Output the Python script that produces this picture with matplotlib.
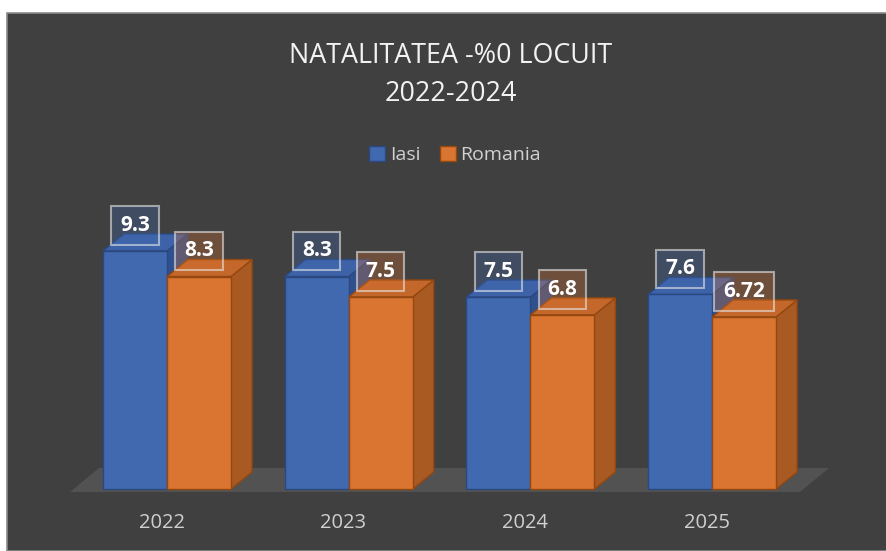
import matplotlib
matplotlib.use('Agg')
import matplotlib.pyplot as plt
from matplotlib.patches import Polygon, Rectangle, Patch
from matplotlib.colors import to_rgb

plt.rcParams['font.family'] = ['Open Sans', 'DejaVu Sans']

# data
years = ['2022', '2023', '2024', '2025']
iasi = [9.3, 8.3, 7.5, 7.6]
romania = [8.3, 7.5, 6.8, 6.72]
series_names = ['Iasi', 'Romania']
title = 'NATALITATEA -%0 LOCUIT\n2022-2024'

# colours: front, top, side, edge
blue = ('#4169b0', '#3d62a8', '#2f4f8d', '#2b4880')
orange = ('#d97431', '#c4672a', '#a85a22', '#94470f')

W, H = 887, 551
fig = plt.figure(figsize=(W / 100, H / 100), dpi=100)

# chart area with grey border
fig.patches.append(Rectangle((7, 0), W - 7, H - 13, transform=None,
                             facecolor='#404040', edgecolor='#8a8a8a',
                             linewidth=1.2, zorder=-5))

ax = fig.add_axes([0, 0, 1, 1])
ax.set_facecolor('none')
ax.set_axis_off()
ax.set_zorder(2)

# pixel mapping: group i centred at 167 + 181.7*i, value 0 at 489 px from top
px_x = 181.7
px_y = 25.6
ax.set_xlim(-167 / px_x, (W - 167) / px_x)
ax.set_ylim((489 - H) / px_y, 489 / px_y)

bw = 64 / px_x          # bar width
dx, dy = 21 / px_x, 17 / px_y   # bar depth
fdx, fdy = 29 / px_x, 24 / px_y  # floor depth

# floor
f0, f1, fy = -97 / px_x, 633 / px_x, -3 / px_y
ax.add_patch(Polygon([(f0, fy), (f1, fy), (f1 + fdx, fy + fdy), (f0 + fdx, fy + fdy)],
                     closed=True, facecolor='#525252', edgecolor='none', zorder=1))


def bar3d(x, v, col, z):
    x0, x1 = x - bw / 2, x + bw / 2
    ax.add_patch(Polygon([(x1, 0), (x1 + dx, dy), (x1 + dx, v + dy), (x1, v)],
                         closed=True, facecolor=col[2], edgecolor=col[3], lw=1, zorder=z))
    ax.add_patch(Polygon([(x0, v), (x1, v), (x1 + dx, v + dy), (x0 + dx, v + dy)],
                         closed=True, facecolor=col[1], edgecolor=col[3], lw=1, zorder=z))
    ax.bar(x, v, width=bw, color=col[0], edgecolor=col[3], lw=1, zorder=z + 0.5)


for i in range(len(years)):
    for j, (vals, col) in enumerate([(iasi, blue), (romania, orange)]):
        x = i + (j - 0.5) * bw
        bar3d(x, vals[i], col, 2 + i * 2 + j)

# data labels
for i in range(len(years)):
    for j, (vals, col) in enumerate([(iasi, blue), (romania, orange)]):
        x = i + (j - 0.5) * bw
        ax.text(x, vals[i] + 1.0, '%g' % vals[i], ha='center', va='center', color='white',
                fontsize=15, fontweight='bold', zorder=30,
                bbox=dict(boxstyle='square,pad=0.42', facecolor=to_rgb(col[0]) + (0.3,),
                          edgecolor=(0.9, 0.9, 0.9, 0.6), linewidth=1.5))

# category labels
for i, y in enumerate(years):
    ax.text(i - 0.03, -34 / px_y, y, ha='center', va='center', color='#d0d0d0',
            fontsize=14.5)

# title
fig.text(451 / W, 1 - 75 / H, title, ha='center', va='center', color='#f2f2f2',
         fontsize=19.4, linespacing=1.5)

# legend
handles = [Patch(facecolor=blue[0], edgecolor=blue[3]),
           Patch(facecolor=orange[0], edgecolor=orange[3])]
leg = fig.legend(handles, series_names, loc='center', bbox_to_anchor=(455 / W, 1 - 155 / H),
                 ncol=2, frameon=False, fontsize=14, handlelength=0.82, handleheight=0.82,
                 handletextpad=0.25, columnspacing=1.0)
for t in leg.get_texts():
    t.set_color('#d0d0d0')

fig.savefig('out.png', dpi=100, facecolor='white')
